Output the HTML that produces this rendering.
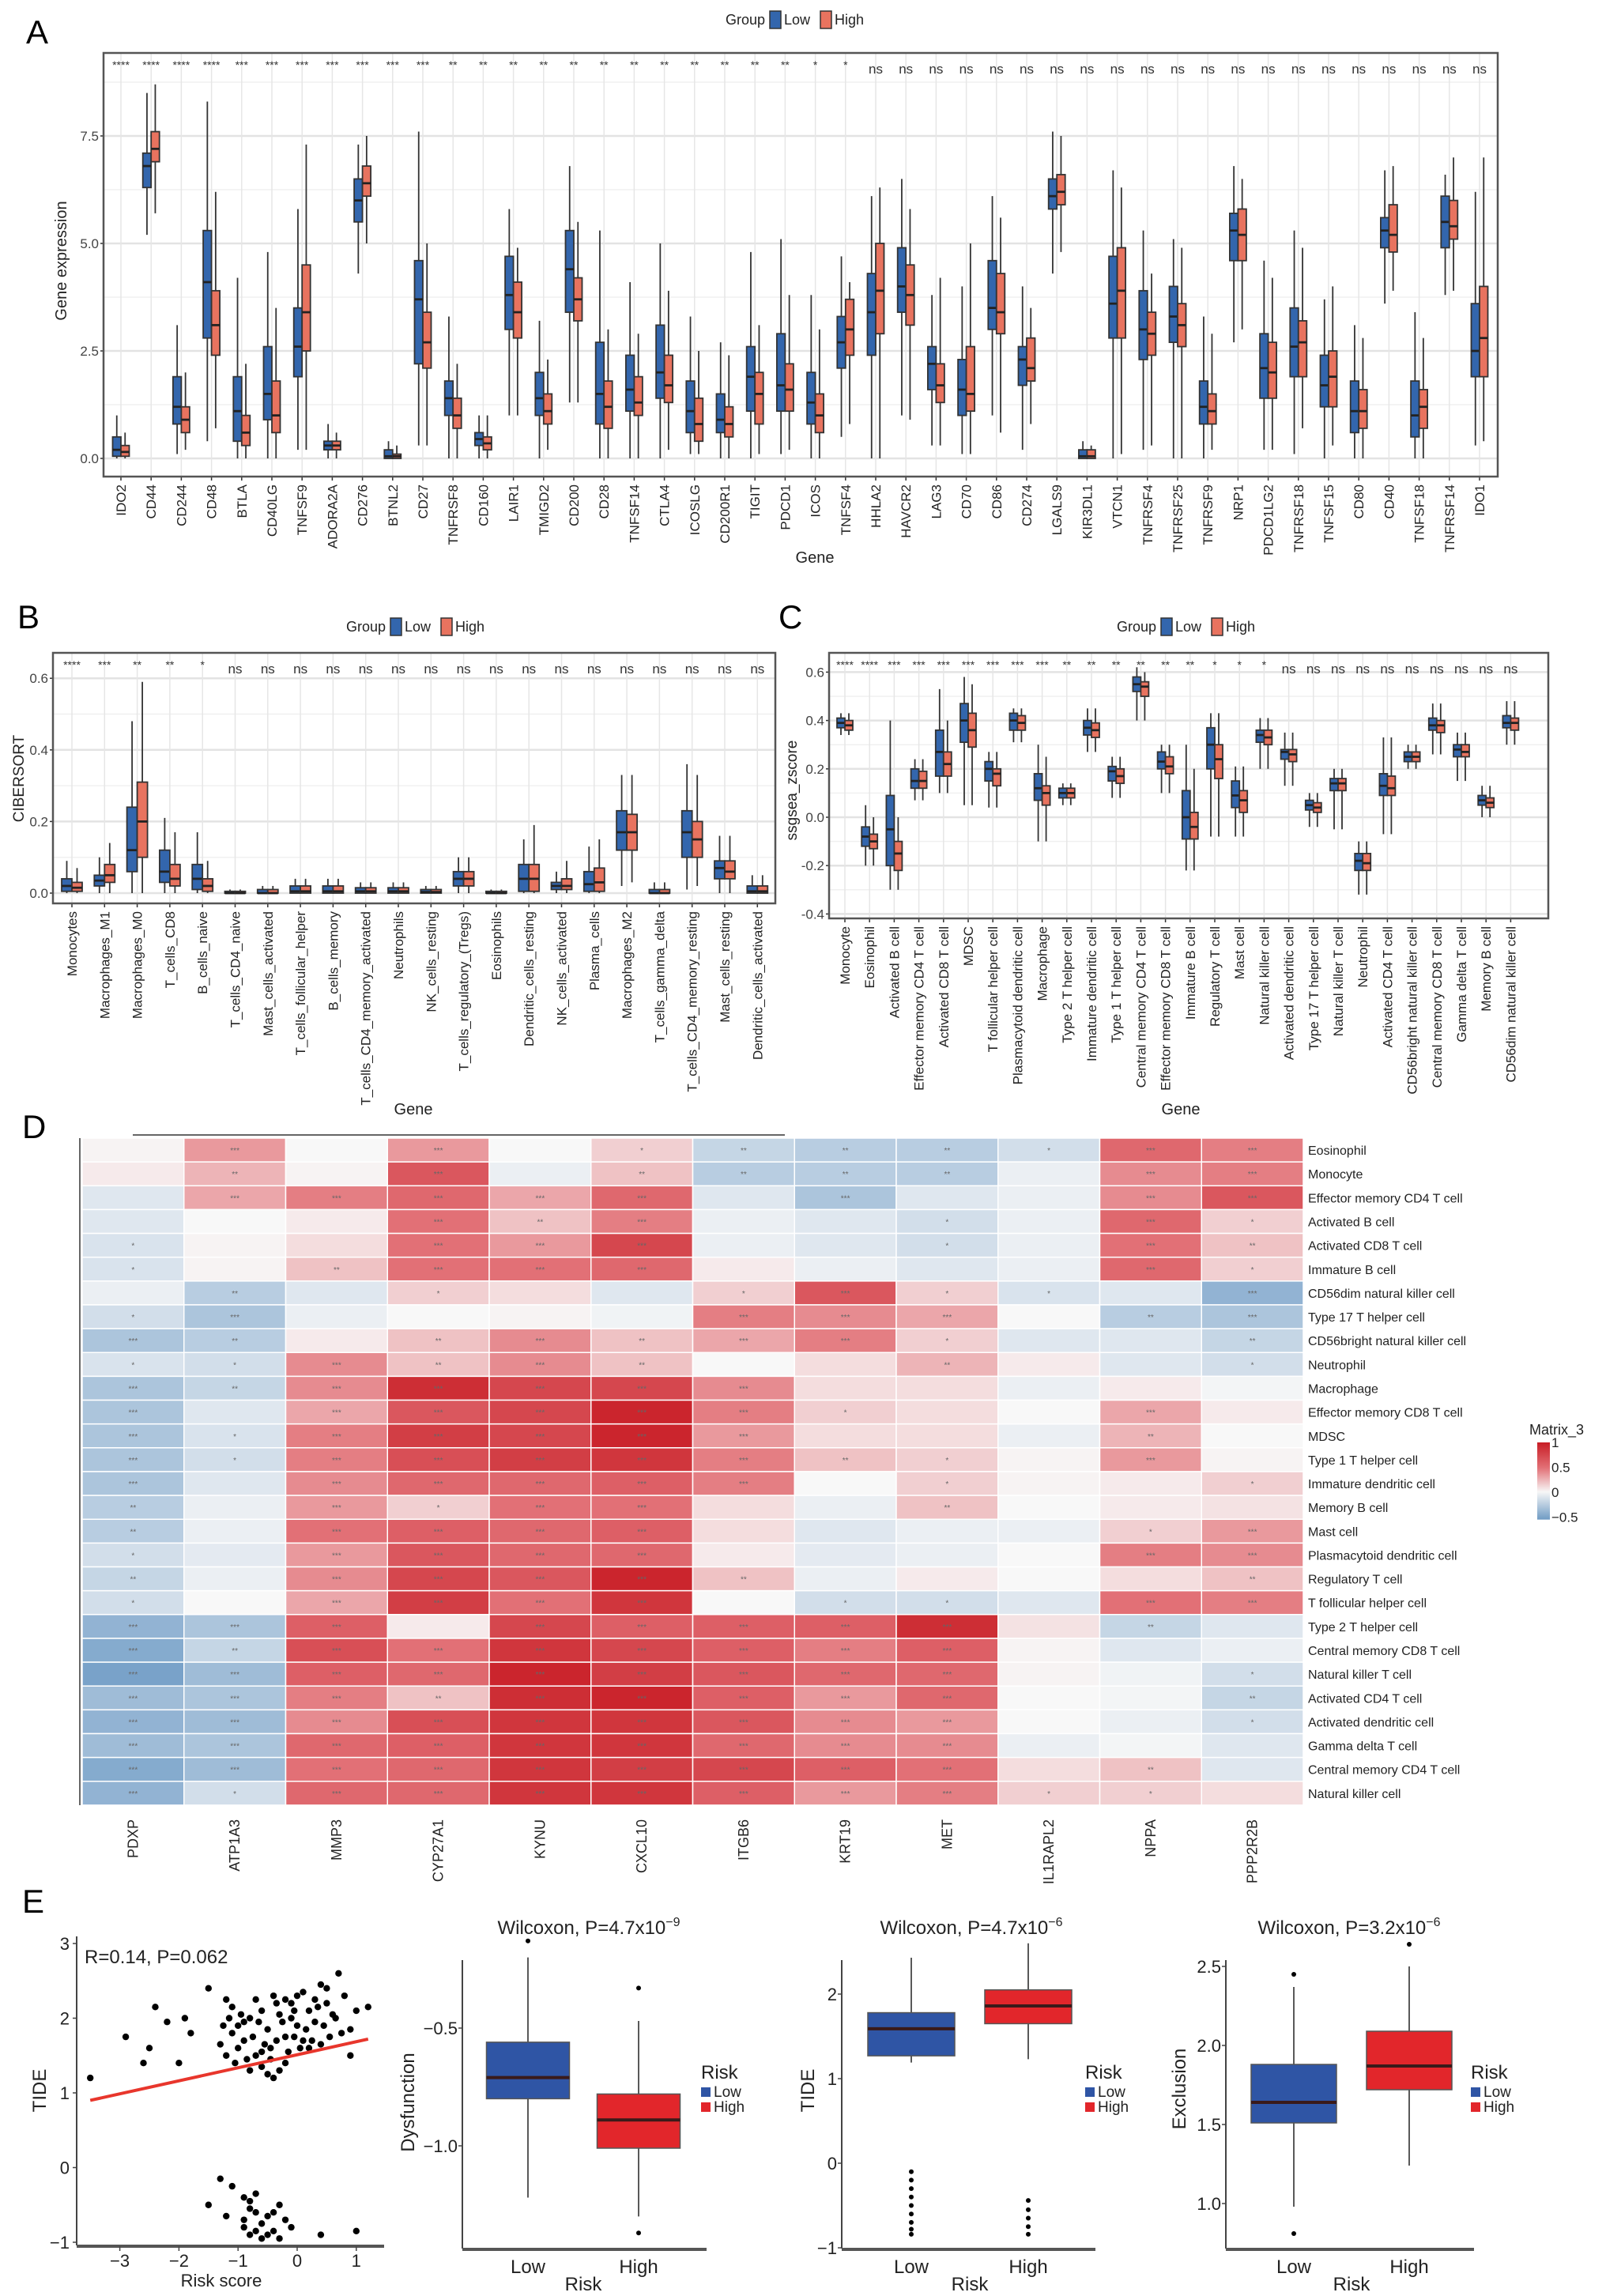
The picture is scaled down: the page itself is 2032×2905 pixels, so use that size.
<!DOCTYPE html>
<html><head><meta charset="utf-8"><style>
html,body{margin:0;padding:0;background:#fff;}
svg{display:block;font-family:"Liberation Sans",Arial,sans-serif;}
</style></head><body>
<svg id="fig" xmlns="http://www.w3.org/2000/svg" width="2032" height="2905" viewBox="0 0 2032 2905">
<defs>
<linearGradient id="hmgrad" x1="0" y1="0" x2="0" y2="1">
<stop offset="0" stop-color="#c81d25"/><stop offset="0.33" stop-color="#e27076"/><stop offset="0.64" stop-color="#f7f7f7"/><stop offset="1" stop-color="#6f9bc4"/>
</linearGradient>
</defs>
<text x="33" y="55" font-size="42">A</text>
<text x="22" y="795" font-size="42">B</text>
<text x="985" y="795" font-size="42">C</text>
<text x="28" y="1440" font-size="42">D</text>
<text x="28" y="2420" font-size="42">E</text>
</svg>
<script>
const NS='http://www.w3.org/2000/svg';
const svg=document.getElementById('fig');
const LOWC='#3366ad', HIGHC='#e8735f';

// ---------- Panel A data ----------
const aGenes=['IDO2','CD44','CD244','CD48','BTLA','CD40LG','TNFSF9','ADORA2A','CD276','BTNL2','CD27','TNFRSF8','CD160','LAIR1','TMIGD2','CD200','CD28','TNFSF14','CTLA4','ICOSLG','CD200R1','TIGIT','PDCD1','ICOS','TNFSF4','HHLA2','HAVCR2','LAG3','CD70','CD86','CD274','LGALS9','KIR3DL1','VTCN1','TNFRSF4','TNFRSF25','TNFRSF9','NRP1','PDCD1LG2','TNFRSF18','TNFSF15','CD80','CD40','TNFSF18','TNFRSF14','IDO1'];
const aSig=['****','****','****','****','***','***','***','***','***','***','***','**','**','**','**','**','**','**','**','**','**','**','**','*','*','ns','ns','ns','ns','ns','ns','ns','ns','ns','ns','ns','ns','ns','ns','ns','ns','ns','ns','ns','ns','ns'];
const aLow=[[0,0.05,0.2,0.5,1.0],[5.2,6.3,6.8,7.1,8.5],[0.1,0.8,1.2,1.9,3.1],[0.4,2.8,4.1,5.3,8.3],[0,0.4,1.1,1.9,4.2],[0,0.9,1.5,2.6,4.8],[0.2,1.9,2.6,3.5,5.8],[0,0.2,0.3,0.4,0.8],[4.3,5.5,6.0,6.5,7.3],[0,0,0.05,0.2,0.4],[0.3,2.2,3.7,4.6,7.6],[0,1.0,1.4,1.8,3.3],[0,0.3,0.45,0.6,1.0],[1.0,3.0,3.8,4.7,5.8],[0,1.0,1.4,2.0,3.2],[1.3,3.4,4.4,5.3,6.8],[0,0.8,1.5,2.7,5.3],[0,1.1,1.6,2.4,4.1],[0,1.4,2.0,3.1,5.0],[0.1,0.6,1.1,1.8,3.3],[0,0.6,0.9,1.5,2.7],[0,1.1,1.9,2.6,4.8],[0.1,1.1,1.7,2.9,5.1],[0,0.8,1.3,2.0,3.8],[0.5,2.1,2.7,3.3,4.7],[0,2.4,3.4,4.3,6.1],[1.0,3.4,4.0,4.9,6.5],[0.3,1.6,2.2,2.6,3.8],[0.1,1.0,1.6,2.3,4.0],[1.0,3.0,3.5,4.6,6.1],[0.2,1.7,2.3,2.6,4.0],[4.3,5.8,6.1,6.5,7.6],[0,0,0.05,0.2,0.4],[0,2.8,3.6,4.7,6.7],[0.2,2.3,3.0,3.9,5.3],[0,2.7,3.3,4.0,5.1],[0,0.8,1.2,1.8,3.3],[2.7,4.6,5.3,5.7,6.8],[0.2,1.4,2.1,2.9,4.6],[0.1,1.9,2.6,3.5,5.3],[0,1.2,1.7,2.4,3.7],[0,0.6,1.1,1.8,3.1],[3.6,4.9,5.3,5.6,6.7],[0,0.5,1.0,1.8,3.4],[3.8,4.9,5.5,6.1,6.6],[0.3,1.9,2.5,3.6,6.2]];
const aHigh=[[0,0.05,0.15,0.3,0.6],[5.7,6.9,7.2,7.6,8.7],[0.2,0.6,0.9,1.2,2.0],[0.7,2.4,3.1,3.9,6.2],[0,0.3,0.6,1.0,2.2],[0,0.6,1.0,1.8,3.5],[0.2,2.5,3.4,4.5,7.3],[0,0.2,0.3,0.4,0.6],[5.0,6.1,6.4,6.8,7.5],[0,0,0.05,0.1,0.3],[0.3,2.1,2.7,3.4,5.0],[0,0.7,1.0,1.4,2.2],[0,0.2,0.35,0.5,1.0],[1.0,2.8,3.4,4.1,4.9],[0.2,0.8,1.1,1.5,2.3],[1.3,3.2,3.7,4.2,5.5],[0,0.7,1.2,1.8,3.0],[0,1.0,1.3,1.9,2.9],[0.2,1.3,1.7,2.4,3.9],[0.1,0.4,0.8,1.4,2.5],[0,0.5,0.8,1.2,2.4],[0.1,0.8,1.5,2.0,3.1],[0.2,1.1,1.6,2.2,3.8],[0,0.6,1.0,1.5,3.0],[0.8,2.4,3.0,3.7,4.1],[0,2.9,3.9,5.0,6.3],[0.9,3.1,3.8,4.5,5.8],[0.3,1.3,1.7,2.2,4.2],[0.1,1.1,1.5,2.6,5.0],[0.6,2.9,3.4,4.3,5.6],[0.8,1.8,2.1,2.8,3.5],[4.8,5.9,6.2,6.6,7.5],[0,0,0.05,0.2,0.3],[0.1,2.8,3.9,4.9,6.3],[0.3,2.4,2.9,3.4,4.3],[0,2.6,3.1,3.6,4.9],[0.2,0.8,1.1,1.5,2.9],[3.0,4.6,5.2,5.8,6.5],[0.2,1.4,2.0,2.7,4.2],[0.7,1.9,2.7,3.2,4.9],[0.3,1.2,1.9,2.5,4.0],[0,0.7,1.1,1.6,2.8],[3.9,4.8,5.2,5.9,6.8],[0,0.7,1.2,1.6,2.8],[3.9,5.1,5.4,6.0,7.0],[0.4,1.9,2.8,4.0,7.0]];
const aTicks=[0,2.5,5,7.5];

// ---------- Panel B data ----------
const bCells=['Monocytes','Macrophages_M1','Macrophages_M0','T_cells_CD8','B_cells_naive','T_cells_CD4_naive','Mast_cells_activated','T_cells_follicular_helper','B_cells_memory','T_cells_CD4_memory_activated','Neutrophils','NK_cells_resting','T_cells_regulatory_(Tregs)','Eosinophils','Dendritic_cells_resting','NK_cells_activated','Plasma_cells','Macrophages_M2','T_cells_gamma_delta','T_cells_CD4_memory_resting','Mast_cells_resting','Dendritic_cells_activated'];
const bSig=['****','***','**','**','*','ns','ns','ns','ns','ns','ns','ns','ns','ns','ns','ns','ns','ns','ns','ns','ns','ns'];
const bLow=[[0,0.005,0.02,0.04,0.09],[0,0.02,0.035,0.05,0.1],[0,0.06,0.12,0.24,0.48],[0,0.03,0.06,0.12,0.21],[0,0.01,0.04,0.08,0.17],[0,0,0,0.005,0.01],[0,0,0,0.01,0.02],[0,0,0.005,0.02,0.04],[0,0,0.005,0.02,0.04],[0,0,0.005,0.015,0.03],[0,0,0.005,0.015,0.03],[0,0,0.003,0.01,0.02],[0,0.02,0.04,0.06,0.1],[0,0,0,0.005,0.01],[0,0.005,0.04,0.08,0.15],[0,0.01,0.02,0.03,0.06],[0,0.005,0.025,0.06,0.13],[0.02,0.12,0.17,0.23,0.33],[0,0,0,0.01,0.03],[0.01,0.1,0.17,0.23,0.36],[0,0.04,0.07,0.09,0.16],[0,0,0.005,0.02,0.05]];
const bHigh=[[0,0.005,0.015,0.03,0.07],[0,0.03,0.05,0.08,0.14],[0,0.1,0.2,0.31,0.59],[0,0.02,0.04,0.08,0.17],[0,0.005,0.02,0.04,0.09],[0,0,0,0.005,0.01],[0,0,0,0.01,0.02],[0,0,0.005,0.02,0.04],[0,0,0.005,0.02,0.04],[0,0,0.005,0.015,0.03],[0,0,0.005,0.015,0.03],[0,0,0.003,0.01,0.02],[0,0.02,0.04,0.06,0.1],[0,0,0,0.005,0.01],[0,0.005,0.04,0.08,0.19],[0,0.01,0.02,0.04,0.09],[0,0.005,0.03,0.07,0.15],[0.03,0.12,0.17,0.22,0.33],[0,0,0,0.01,0.03],[0.02,0.1,0.15,0.2,0.33],[0,0.04,0.06,0.09,0.16],[0,0,0.005,0.02,0.05]];
const bTicks=[0,0.2,0.4,0.6];

// ---------- Panel C data ----------
const cCells=['Monocyte','Eosinophil','Activated B cell','Effector memory CD4 T cell','Activated CD8 T cell','MDSC','T follicular helper cell','Plasmacytoid dendritic cell','Macrophage','Type 2 T helper cell','Immature dendritic cell','Type 1 T helper cell','Central memory CD4 T cell','Effector memory CD8 T cell','Immature B cell','Regulatory T cell','Mast cell','Natural killer cell','Activated dendritic cell','Type 17 T helper cell','Natural killer T cell','Neutrophil','Activated CD4 T cell','CD56bright natural killer cell','Central memory CD8 T cell','Gamma delta T cell','Memory B cell','CD56dim natural killer cell'];
const cSig=['****','****','***','***','***','***','***','***','***','**','**','**','**','**','**','*','*','*','ns','ns','ns','ns','ns','ns','ns','ns','ns','ns'];
const cLow=[[0.34,0.37,0.39,0.41,0.43],[-0.2,-0.12,-0.08,-0.04,0.05],[-0.3,-0.2,-0.05,0.09,0.4],[0.07,0.12,0.15,0.2,0.24],[0.1,0.17,0.27,0.36,0.53],[0.05,0.31,0.4,0.47,0.58],[0.04,0.15,0.2,0.23,0.27],[0.31,0.36,0.4,0.43,0.45],[-0.1,0.07,0.12,0.18,0.3],[0.05,0.08,0.1,0.12,0.14],[0.27,0.34,0.37,0.4,0.45],[0.08,0.15,0.19,0.21,0.25],[0.4,0.52,0.55,0.58,0.62],[0.1,0.2,0.23,0.27,0.3],[-0.22,-0.09,0.0,0.11,0.3],[-0.08,0.2,0.3,0.37,0.43],[-0.08,0.04,0.09,0.15,0.21],[0.2,0.31,0.34,0.36,0.41],[0.13,0.24,0.27,0.28,0.35],[-0.04,0.03,0.05,0.07,0.1],[-0.05,0.11,0.14,0.16,0.2],[-0.32,-0.22,-0.18,-0.15,-0.1],[-0.07,0.09,0.13,0.18,0.33],[0.2,0.23,0.25,0.27,0.3],[0.26,0.36,0.38,0.41,0.47],[0.15,0.25,0.28,0.3,0.35],[0,0.05,0.07,0.09,0.13],[0.3,0.37,0.39,0.42,0.48]];
const cHigh=[[0.34,0.36,0.38,0.4,0.43],[-0.2,-0.13,-0.1,-0.07,0.0],[-0.3,-0.22,-0.15,-0.1,0.0],[0.07,0.12,0.15,0.19,0.24],[0.1,0.17,0.22,0.27,0.4],[0.05,0.29,0.36,0.43,0.55],[0.04,0.13,0.18,0.2,0.27],[0.31,0.36,0.39,0.42,0.45],[-0.1,0.05,0.1,0.13,0.25],[0.05,0.08,0.1,0.12,0.14],[0.27,0.33,0.36,0.39,0.45],[0.08,0.14,0.17,0.2,0.25],[0.4,0.5,0.54,0.56,0.6],[0.1,0.18,0.21,0.25,0.3],[-0.22,-0.09,-0.04,0.02,0.2],[-0.08,0.16,0.24,0.3,0.43],[-0.08,0.02,0.07,0.11,0.21],[0.2,0.3,0.33,0.36,0.41],[0.13,0.23,0.26,0.28,0.35],[-0.04,0.02,0.04,0.06,0.1],[-0.05,0.11,0.14,0.16,0.2],[-0.32,-0.22,-0.19,-0.15,-0.1],[-0.07,0.09,0.12,0.17,0.33],[0.2,0.23,0.25,0.27,0.3],[0.26,0.35,0.38,0.4,0.47],[0.15,0.25,0.27,0.3,0.35],[0,0.04,0.06,0.08,0.13],[0.3,0.36,0.39,0.41,0.48]];
const cTicks=[-0.4,-0.2,0,0.2,0.4,0.6];

// ---------- Panel D data ----------
const dGenes=['PDXP','ATP1A3','MMP3','CYP27A1','KYNU','CXCL10','ITGB6','KRT19','MET','IL1RAPL2','NPPA','PPP2R2B'];
const dRows=['Eosinophil','Monocyte','Effector memory CD4 T cell','Activated B cell','Activated CD8 T cell','Immature B cell','CD56dim natural killer cell','Type 17 T helper cell','CD56bright natural killer cell','Neutrophil','Macrophage','Effector memory CD8 T cell','MDSC','Type 1 T helper cell','Immature dendritic cell','Memory B cell','Mast cell','Plasmacytoid dendritic cell','Regulatory T cell','T follicular helper cell','Type 2 T helper cell','Central memory CD8 T cell','Natural killer T cell','Activated CD4 T cell','Activated dendritic cell','Gamma delta T cell','Central memory CD4 T cell','Natural killer cell'];
const dVals=[
[0.02,0.35,0.0,0.35,0.0,0.15,-0.2,-0.25,-0.25,-0.15,0.55,0.45],
[0.05,0.25,0.02,0.65,-0.05,0.2,-0.25,-0.25,-0.25,-0.05,0.4,0.45],
[-0.1,0.3,0.45,0.55,0.3,0.55,-0.1,-0.3,-0.1,-0.05,0.4,0.65],
[-0.1,0.0,0.05,0.5,0.2,0.45,-0.05,-0.1,-0.15,-0.05,0.55,0.15],
[-0.12,0.02,0.1,0.5,0.35,0.75,-0.05,-0.1,-0.15,-0.05,0.5,0.2],
[-0.12,0.02,0.2,0.5,0.5,0.55,0.05,-0.05,-0.1,-0.05,0.55,0.15],
[-0.05,-0.25,-0.1,0.15,0.1,-0.1,0.15,0.65,0.15,-0.12,-0.1,-0.4],
[-0.15,-0.3,-0.05,0.0,0.02,-0.03,0.45,0.4,0.3,0.0,-0.25,-0.3],
[-0.3,-0.25,0.05,0.2,0.4,0.2,0.3,0.45,0.15,-0.1,-0.1,-0.2],
[-0.12,-0.15,0.4,0.2,0.4,0.2,0.0,0.1,0.25,0.05,-0.1,-0.15],
[-0.3,-0.2,0.4,0.9,0.75,0.75,0.4,0.1,0.1,-0.05,0.05,-0.02],
[-0.3,-0.1,0.3,0.65,0.75,0.95,0.45,0.15,0.1,0.0,0.3,0.05],
[-0.3,-0.12,0.45,0.8,0.75,0.95,0.35,0.1,0.1,-0.05,0.25,0.0],
[-0.3,-0.15,0.45,0.7,0.8,0.85,0.45,0.2,0.15,0.02,0.35,0.02],
[-0.3,-0.1,0.4,0.55,0.55,0.6,0.45,0.0,0.15,0.02,0.05,0.15],
[-0.25,-0.05,0.35,0.15,0.5,0.5,0.1,-0.05,0.2,0.0,0.05,0.08],
[-0.25,-0.05,0.5,0.6,0.55,0.6,0.1,-0.1,-0.05,-0.05,0.15,0.35],
[-0.15,-0.08,0.35,0.65,0.55,0.55,0.05,-0.08,-0.05,0.0,0.45,0.4],
[-0.2,-0.05,0.4,0.75,0.65,0.95,0.2,-0.05,0.05,0.0,0.1,0.2],
[-0.15,0.0,0.3,0.8,0.5,0.85,0.0,-0.15,-0.15,-0.1,0.5,0.45],
[-0.4,-0.3,0.6,0.05,0.75,0.6,0.6,0.6,0.9,0.08,-0.2,-0.1],
[-0.45,-0.2,0.7,0.5,0.85,0.75,0.6,0.45,0.6,0.02,-0.1,-0.05],
[-0.5,-0.35,0.6,0.55,0.95,0.8,0.65,0.55,0.55,0.02,-0.03,-0.15],
[-0.35,-0.3,0.45,0.2,0.9,0.95,0.6,0.35,0.55,0.0,-0.02,-0.2],
[-0.4,-0.35,0.4,0.7,0.85,0.85,0.65,0.4,0.35,0.0,-0.05,-0.15],
[-0.35,-0.3,0.55,0.6,0.85,0.85,0.55,0.4,0.4,-0.05,-0.02,-0.1],
[-0.45,-0.35,0.5,0.55,0.85,0.8,0.75,0.6,0.5,0.1,0.2,-0.1],
[-0.4,-0.15,0.55,0.55,0.85,0.85,0.6,0.35,0.45,0.15,0.15,0.1]];
const dLegTicks=[1,0.5,0,-0.5];

// ---------- Panel E data ----------
const eScatterX=[-1.3,-1.1,-1.5,-0.9,-0.8,-0.8,-0.7,-1.2,-0.6,-0.9,-0.7,-0.5,-0.4,-0.8,-0.3,-0.2,-0.1,0.4,1.0,-0.6,-0.5,-0.9,-0.4,-0.7,-0.3,-3.5,-2.9,-2.6,-2.5,-2.4,-2.2,-2.0,-1.9,-1.8,-1.5,-1.3,-1.2,-1.1,-1.0,-0.9,-0.8,-0.7,-0.6,-0.5,-0.4,-0.3,-0.2,-0.1,0.0,0.1,0.2,0.3,0.4,0.5,0.6,0.7,0.8,0.9,1.0,1.2,0.9,-1.2,-1.1,-1.0,-0.95,-0.85,-0.75,-0.65,-0.55,-0.45,-0.35,-0.25,-0.15,-0.05,0.05,0.15,0.25,0.35,0.45,0.55,0.65,-0.5,-0.4,-0.6,-0.8,-1.05,-0.3,-0.2,-0.1,0.0,0.2,0.3,-0.7,-0.9,-1.15,-0.35,-0.05,0.1,0.4,0.5,-0.6,-0.2,0.75,-1.25,-0.45];
const eScatterY=[-0.15,-0.25,-0.5,-0.4,-0.45,-0.55,-0.6,-0.65,-0.75,-0.8,-0.85,-0.9,-0.85,-0.9,-0.5,-0.7,-0.8,-0.9,-0.85,-0.95,-0.65,-0.7,-0.6,-0.35,-0.95,1.2,1.75,1.4,1.6,2.15,1.95,1.4,2.0,1.8,2.4,1.65,2.25,2.15,1.9,1.7,2.0,2.25,1.55,1.85,2.3,2.05,1.75,2.2,1.9,2.35,2.1,1.95,2.45,2.2,2.05,2.6,2.3,1.85,2.1,2.15,1.5,1.5,1.8,1.6,2.05,1.45,1.75,1.95,1.65,1.45,1.7,1.95,1.55,1.75,1.6,1.85,1.7,2.15,1.9,1.75,2.0,1.25,1.2,1.35,1.3,1.4,1.3,1.4,2.0,2.3,1.6,2.25,1.5,1.95,2.0,2.2,2.1,1.7,1.65,2.4,2.1,2.25,1.8,1.9,1.6];
const eFitX=[-3.5,1.2];
const eFitY=[0.9,1.72];
const eGroups=['Low','High'];
const eDysLow=[-1.22,-0.8,-0.71,-0.56,-0.2];
const eDysHigh=[-1.3,-1.01,-0.89,-0.78,-0.47];
const eDysOut=[[-0.13],[-0.33,-1.37]];
const eTideLow=[1.19,1.27,1.59,1.78,2.43];
const eTideHigh=[1.23,1.65,1.86,2.05,2.6];
const eTideOut=[[-0.1,-0.2,-0.3,-0.4,-0.5,-0.6,-0.7,-0.78,-0.84],[-0.44,-0.55,-0.65,-0.75,-0.84]];
const eExcLow=[0.98,1.51,1.64,1.88,2.37];
const eExcHigh=[1.24,1.72,1.87,2.09,2.5];
const eExcOut=[[2.45,0.81],[2.64]];

// ---------- helpers ----------
function mk(tag,attrs,name,parent){
  const el=document.createElementNS(NS,tag);
  for(const k in attrs) el.setAttribute(k,attrs[k]);
  
  
  (parent||svg).appendChild(el);
  return el;
}
function txt(x,y,s,size,name,extra){
  const a=Object.assign({x:x,y:y,'font-size':size,fill:'#222'},extra||{});
  const t=mk('text',a,name);
  t.textContent=s;
  return t;
}
function drawBox(cx,w,st,yf,fill,name,sw){
  sw=sw||2;
  mk('line',{x1:cx,x2:cx,y1:yf(st[0]),y2:yf(st[4]),stroke:'#333','stroke-width':sw},name+'-whisker');
  const y1=yf(st[3]),y2=yf(st[1]);
  mk('rect',{x:cx-w/2,y:Math.min(y1,y2),width:w,height:Math.max(1,Math.abs(y2-y1)),fill:fill,stroke:'#333','stroke-width':sw},name+'-box');
  mk('line',{x1:cx-w/2,x2:cx+w/2,y1:yf(st[2]),y2:yf(st[2]),stroke:'#222','stroke-width':sw+1},name+'-median');
}
function groupLegend(x,y,name){
  txt(x,y+7,'Group',18,name+'-title',{'font-stretch':'condensed'});
  mk('rect',{x:x+56,y:y-10,width:14,height:22,fill:LOWC,stroke:'#333','stroke-width':1.5},name+'-low-key');
  txt(x+74,y+7,'Low',18,name+'-low-label');
  mk('rect',{x:x+120,y:y-10,width:14,height:22,fill:HIGHC,stroke:'#333','stroke-width':1.5},name+'-high-key');
  txt(x+138,y+7,'High',18,name+'-high-label');
}
function boxPanel(p){
  const n=p.cats.length;
  const xf=i=>p.x0+p.first+i*p.step;
  const yf=v=>p.yZero-v*p.yScale;
  mk('rect',{x:p.x0,y:p.y0,width:p.x1-p.x0,height:p.y1-p.y0,fill:'#fff'},p.id+'-plot-bg');
  p.minor.forEach(v=>mk('line',{x1:p.x0,x2:p.x1,y1:yf(v),y2:yf(v),stroke:'#f0f0f0','stroke-width':1.5},p.id+'-minor-grid'));
  p.ticks.forEach(v=>{
    mk('line',{x1:p.x0,x2:p.x1,y1:yf(v),y2:yf(v),stroke:'#e3e3e3','stroke-width':2.5},p.id+'-grid');
    mk('line',{x1:p.x0-4,x2:p.x0,y1:yf(v),y2:yf(v),stroke:'#333','stroke-width':1.5},p.id+'-ytick');
    txt(p.x0-6,yf(v)+6,p.fmt(v),17,p.id+'-ytick-label',{'text-anchor':'end',fill:'#444'});
  });
  for(let i=0;i<n;i++) mk('line',{x1:xf(i),x2:xf(i),y1:p.y0,y2:p.y1,stroke:'#e6e6e6','stroke-width':1.5},p.id+'-vgrid');
  for(let i=0;i<n;i++){
    drawBox(xf(i)-p.bw/2,p.bw,p.low[i],yf,LOWC,p.id+'-low-'+i,1.8);
    drawBox(xf(i)+p.bw/2,p.bw,p.high[i],yf,HIGHC,p.id+'-high-'+i,1.8);
    txt(xf(i),p.y0+(p.sig[i]==='ns'?26:20),p.sig[i],p.sig[i]==='ns'?17:14,p.id+'-sig-label',{'text-anchor':'middle',fill:'#333'});
    mk('line',{x1:xf(i),x2:xf(i),y1:p.y1,y2:p.y1+5,stroke:'#333','stroke-width':1.5},p.id+'-xtick');
    txt(xf(i)+6,p.y1+10,p.cats[i],17,p.id+'-xtick-label',{'text-anchor':'end',transform:'rotate(-90 '+(xf(i)+6)+' '+(p.y1+10)+')'});
  }
  mk('rect',{x:p.x0,y:p.y0,width:p.x1-p.x0,height:p.y1-p.y0,fill:'none',stroke:'#555','stroke-width':2.5},p.id+'-plot-frame');
}

// ---------- Panel A ----------
groupLegend(918,24,'panel-a-legend');
boxPanel({id:'panel-a',cats:aGenes,sig:aSig,low:aLow,high:aHigh,x0:131,x1:1895,y0:67,y1:603,first:22,step:38.2,bw:10.5,yZero:580,yScale:54.4,ticks:aTicks,minor:[1.25,3.75,6.25,8.75],fmt:v=>v.toFixed(1)});
txt(1031,712,'Gene',20,'panel-a-x-axis-title',{'text-anchor':'middle'});
txt(84,330,'Gene expression',20,'panel-a-y-axis-title',{'text-anchor':'middle',transform:'rotate(-90 84 330)'});

// ---------- Panel B ----------
groupLegend(438,792,'panel-b-legend');
boxPanel({id:'panel-b',cats:bCells,sig:bSig,low:bLow,high:bHigh,x0:67,x1:981,y0:826,y1:1143,first:24,step:41.3,bw:13,yZero:1130,yScale:453,ticks:bTicks,minor:[0.1,0.3,0.5],fmt:v=>v.toFixed(1)});
txt(523,1410,'Gene',20,'panel-b-x-axis-title',{'text-anchor':'middle'});
txt(30,985,'CIBERSORT',19,'panel-b-y-axis-title',{'text-anchor':'middle',transform:'rotate(-90 30 985)'});

// ---------- Panel C ----------
groupLegend(1413,792,'panel-c-legend');
boxPanel({id:'panel-c',cats:cCells,sig:cSig,low:cLow,high:cHigh,x0:1049,x1:1959,y0:826,y1:1162,first:20,step:31.2,bw:10,yZero:1034,yScale:306,ticks:cTicks,minor:[-0.3,-0.1,0.1,0.3,0.5],fmt:v=>v.toFixed(1)});
txt(1494,1410,'Gene',20,'panel-c-x-axis-title',{'text-anchor':'middle'});
txt(1008,1000,'ssgsea_zscore',19,'panel-c-y-axis-title',{'text-anchor':'middle',transform:'rotate(-90 1008 1000)'});

// ---------- Panel D heatmap ----------
function hmColor(v){
  const W=[248,248,248];
  let c;
  if(v<0){const t=Math.min(1,-v/0.6);const B=[95,145,192];c=W.map((w,i)=>w+(B[i]-w)*t);}
  else if(v<0.5){const t=v/0.5;const R=[226,112,118];c=W.map((w,i)=>w+(R[i]-w)*t);}
  else {const t=Math.min(1,(v-0.5)/0.5);const R=[226,112,118],D=[200,29,37];c=R.map((r,i)=>r+(D[i]-r)*t);}
  return 'rgb('+c.map(Math.round).join(',')+')';
}
const hx0=104,hy0=1440,cw=128.75,rh=30.14;
mk('line',{x1:168,x2:993,y1:1436,y2:1436,stroke:'#666','stroke-width':2},'panel-d-top-bracket');
mk('line',{x1:101,x2:101,y1:1440,y2:2284,stroke:'#666','stroke-width':2},'panel-d-left-bracket');
for(let r=0;r<dRows.length;r++){
  for(let c=0;c<dGenes.length;c++){
    const v=dVals[r][c];
    mk('rect',{x:hx0+c*cw,y:hy0+r*rh,width:cw,height:rh,fill:hmColor(v),stroke:'#fff','stroke-width':1.5},'heatmap-cell');
    const a=Math.abs(v);
    const s=a>=0.3?'***':a>=0.2?'**':a>=0.12?'*':'';
    if(s) txt(hx0+c*cw+cw/2,hy0+r*rh+rh/2+4,s,10,'heatmap-sig-label',{'text-anchor':'middle',fill:'#666'});
  }
  txt(hx0+12*cw+6,hy0+r*rh+rh/2+6,dRows[r],16,'heatmap-row-label',{'font-stretch':'condensed'});
}
for(let c=0;c<dGenes.length;c++){
  const x=hx0+c*cw+cw/2+6;
  txt(x,2302,dGenes[c],18,'heatmap-col-label',{'text-anchor':'end',transform:'rotate(-90 '+x+' 2302)'});
}
txt(1935,1815,'Matrix_3',18,'heatmap-legend-title');
const lgY=v=>1888-v*63;
mk('rect',{x:1945,y:lgY(1),width:16,height:lgY(-0.55)-lgY(1),fill:'url(#hmgrad)'},'heatmap-legend-bar');
dLegTicks.forEach(v=>txt(1963,lgY(v)+6,(v<0?'\u22120.5':String(v)),17,'heatmap-legend-tick'));

// ---------- Panel E scatter ----------
const sx=v=>376+v*74.8, sy=v=>2837-(v+1)*94.5;
mk('line',{x1:97,x2:97,y1:2450,y2:2841,stroke:'#444','stroke-width':2},'scatter-y-axis');
mk('line',{x1:97,x2:486,y1:2842,y2:2842,stroke:'#555','stroke-width':4},'scatter-x-axis');
[-1,0,1,2,3].forEach(v=>{
  mk('line',{x1:92,x2:97,y1:sy(v),y2:sy(v),stroke:'#444','stroke-width':1.5},'scatter-ytick');
  txt(88,sy(v)+8,String(v).replace('-','\u2212'),22,'scatter-ytick-label',{'text-anchor':'end'});
});
[-3,-2,-1,0,1].forEach(v=>{
  mk('line',{x1:sx(v),x2:sx(v),y1:2842,y2:2848,stroke:'#444','stroke-width':1.5},'scatter-xtick');
  txt(sx(v),2868,String(v).replace('-','\u2212'),22,'scatter-xtick-label',{'text-anchor':'middle'});
});
for(let i=0;i<eScatterX.length;i++) mk('circle',{cx:sx(eScatterX[i]),cy:sy(eScatterY[i]),r:4.2,fill:'#000'},'scatter-point');
mk('line',{x1:sx(eFitX[0]),y1:sy(eFitY[0]),x2:sx(eFitX[1]),y2:sy(eFitY[1]),stroke:'#e8362c','stroke-width':4},'scatter-fit-line');
txt(107,2484,'R=0.14, P=0.062',24,'scatter-stats-label',{'font-stretch':'condensed'});
txt(280,2893,'Risk score',22,'scatter-x-axis-title',{'text-anchor':'middle'});
txt(58,2645,'TIDE',24,'scatter-y-axis-title',{'text-anchor':'middle',transform:'rotate(-90 58 2645)'});

// ---------- Panel E boxplots ----------
function eBox(o){
  mk('line',{x1:o.ax,x2:o.ax,y1:2480,y2:2845,stroke:'#444','stroke-width':2},o.id+'-y-axis');
  mk('line',{x1:o.ax,x2:o.ax2,y1:2846,y2:2846,stroke:'#555','stroke-width':4},o.id+'-x-axis');
  o.ticks.forEach(v=>{
    mk('line',{x1:o.ax-5,x2:o.ax,y1:o.yf(v),y2:o.yf(v),stroke:'#444','stroke-width':1.5},o.id+'-ytick');
    txt(o.ax-6,o.yf(v)+8,o.fmt(v),22,o.id+'-ytick-label',{'text-anchor':'end'});
  });
  const stats=[o.low,o.high],cols=['#2f55a5','#e2262b'];
  for(let g=0;g<2;g++){
    const cx=o.cx[g];
    mk('line',{x1:cx,x2:cx,y1:o.yf(stats[g][0]),y2:o.yf(stats[g][4]),stroke:'#222','stroke-width':1.5},o.id+'-whisker');
    mk('rect',{x:cx-o.bw/2,y:o.yf(stats[g][3]),width:o.bw,height:o.yf(stats[g][1])-o.yf(stats[g][3]),fill:cols[g],stroke:'#555','stroke-width':1.5},o.id+'-box-'+eGroups[g].toLowerCase());
    mk('line',{x1:cx-o.bw/2,x2:cx+o.bw/2,y1:o.yf(stats[g][2]),y2:o.yf(stats[g][2]),stroke:'#3a1a1a','stroke-width':4},o.id+'-median');
    o.out[g].forEach(v=>mk('circle',{cx:cx,cy:o.yf(v),r:3,fill:'#000'},o.id+'-outlier'));
    txt(cx,2876,eGroups[g],24,o.id+'-xtick-label',{'text-anchor':'middle','font-stretch':'condensed'});
  }
  txt((o.cx[0]+o.cx[1])/2,2898,'Risk',24,o.id+'-x-axis-title',{'text-anchor':'middle','font-stretch':'condensed'});
  const tt=txt(o.titleX,2447,'Wilcoxon, P='+o.p+'x10',24,o.id+'-title',{'text-anchor':'middle','font-stretch':'condensed'});
  const sup=document.createElementNS(NS,'tspan');
  sup.setAttribute('dy','-10');
  sup.setAttribute('font-size','16');
  sup.textContent='\u2212'+o.exp;
  tt.appendChild(sup);
  txt(o.yt[0],o.yt[1],o.ytitle,24,o.id+'-y-axis-title',{'text-anchor':'middle',transform:'rotate(-90 '+o.yt[0]+' '+o.yt[1]+')'});
  txt(o.lx,2630,'Risk',24,o.id+'-legend-title',{'font-stretch':'condensed'});
  mk('rect',{x:o.lx,y:2641,width:12,height:12,fill:'#2f55a5'},o.id+'-legend-low-key');
  txt(o.lx+16,2653,'Low',19,o.id+'-legend-low-label',{'font-stretch':'condensed'});
  mk('rect',{x:o.lx,y:2660,width:12,height:12,fill:'#e2262b'},o.id+'-legend-high-key');
  txt(o.lx+16,2672,'High',19,o.id+'-legend-high-label',{'font-stretch':'condensed'});
}
eBox({id:'dysfunction',ax:585,ax2:894,cx:[668,808],bw:105,low:eDysLow,high:eDysHigh,out:eDysOut,yf:v=>2566+(-0.5-v)/0.5*149,ticks:[-1.0,-0.5],fmt:v=>'\u2212'+Math.abs(v).toFixed(1),titleX:745,p:'4.7',exp:'9',ytitle:'Dysfunction',yt:[524,2660],lx:887});
eBox({id:'tide',ax:1065,ax2:1386,cx:[1153,1301],bw:110,low:eTideLow,high:eTideHigh,out:eTideOut,yf:v=>2737-v*107,ticks:[-1,0,1,2],fmt:v=>String(v).replace('-','\u2212'),titleX:1229,p:'4.7',exp:'6',ytitle:'TIDE',yt:[1030,2645],lx:1373});
eBox({id:'exclusion',ax:1551,ax2:1865,cx:[1637,1783],bw:108,low:eExcLow,high:eExcHigh,out:eExcOut,yf:v=>2588-(v-2)*200,ticks:[1.0,1.5,2.0,2.5],fmt:v=>v.toFixed(1),titleX:1707,p:'3.2',exp:'6',ytitle:'Exclusion',yt:[1500,2643],lx:1861});
</script>
</body></html>
